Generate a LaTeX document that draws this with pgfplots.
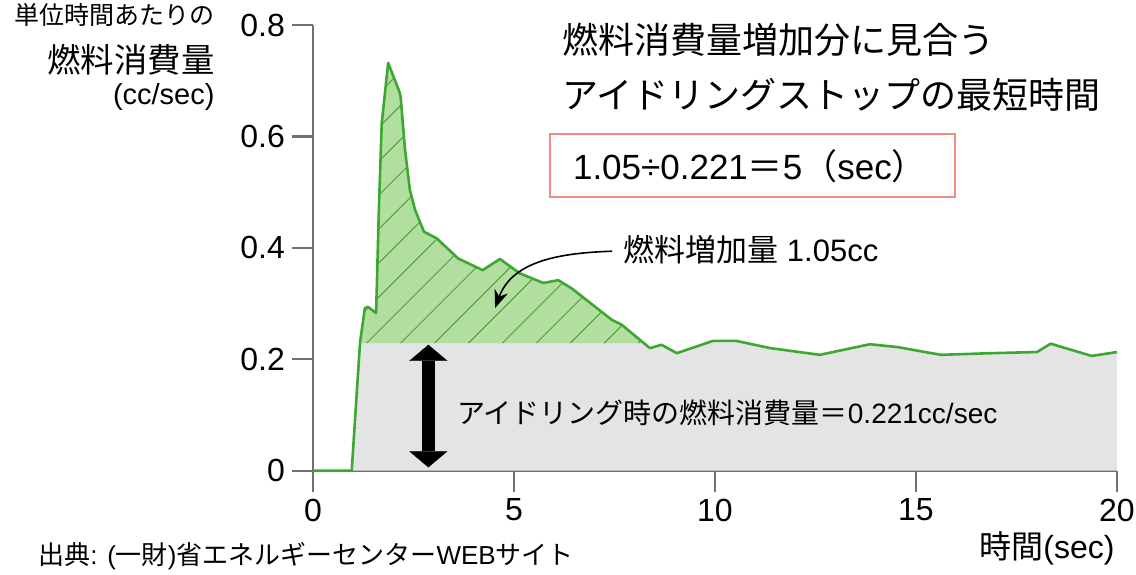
\documentclass[border=0pt]{standalone}
\usepackage{fontspec}
\setmainfont{Liberation Sans}
\newfontfamily\jp{Noto Sans CJK JP}
\usepackage{pgfplots}
\usepackage{pgfplotstable}
\pgfplotsset{compat=1.18}
\usetikzlibrary{arrows.meta,patterns.meta}

\definecolor{axgray}{RGB}{112,112,112}
\definecolor{curvegreen}{RGB}{60,168,50}
\definecolor{fillgreen}{RGB}{178,222,160}
\definecolor{hatchgreen}{RGB}{80,160,60}
\definecolor{idlegray}{RGB}{228,228,228}
\definecolor{boxred}{RGB}{244,140,130}

% fuel consumption curve (cc/sec)
\pgfplotstableread{
x y
0 0
0.963 0
1.17 0.230
1.29 0.292
1.37 0.294
1.57 0.283
1.64 0.473
1.71 0.624
1.87 0.732
2.15 0.680
2.18 0.671
2.29 0.576
2.41 0.504
2.54 0.468
2.76 0.429
3.08 0.417
3.61 0.381
4.22 0.360
4.65 0.380
5.15 0.354
5.73 0.337
6.10 0.342
6.44 0.327
7.43 0.271
7.68 0.262
8.38 0.220
8.67 0.226
9.05 0.211
9.95 0.233
10.53 0.233
11.38 0.220
12.61 0.208
13.85 0.227
14.53 0.222
15.62 0.208
16.90 0.211
18.01 0.213
18.35 0.228
19.37 0.206
20 0.213
}\curve

% extra fuel above idling level
\pgfplotstableread{
x y
1.17 0.229
1.29 0.292
1.37 0.294
1.57 0.283
1.64 0.473
1.71 0.624
1.87 0.732
2.15 0.680
2.18 0.671
2.29 0.576
2.41 0.504
2.54 0.468
2.76 0.429
3.08 0.417
3.61 0.381
4.22 0.360
4.65 0.380
5.15 0.354
5.73 0.337
6.10 0.342
6.44 0.327
7.43 0.271
7.68 0.262
8.21 0.229
}\excess

% idling consumption area
\pgfplotstableread{
x y
0.963 0
1.17 0.229
8.21 0.229
8.38 0.220
8.67 0.226
9.05 0.211
9.95 0.233
10.53 0.233
11.38 0.220
12.61 0.208
13.85 0.227
14.53 0.222
15.62 0.208
16.90 0.211
18.01 0.213
18.35 0.228
19.37 0.206
20 0.213
20 0
}\idle

\begin{document}
\begin{tikzpicture}
\path[use as bounding box] (-156.5pt,-51.65pt) rectangle (411.5pt,235.35pt);
\begin{axis}[
  at={(0,0)}, anchor=south west,
  width=402pt, height=222.85pt, scale only axis,
  xmin=0, xmax=20, ymin=0, ymax=0.8,
  xtick={0,5,10,15,20}, ytick={0,0.2,0.4,0.6,0.8},
  axis x line=bottom, axis y line=left,
  axis line style={-, draw=axgray, line width=1.1pt},
  tick style={draw=axgray, line width=1.1pt},
  tick align=outside, major tick length=10.5pt,
  ticklabel style={font=\fontsize{16}{16}\selectfont},
  /pgf/number format/assume math mode=true,
  clip=false,
]
\addplot[draw=none, fill=idlegray] table {\idle};
\addplot[draw=none, fill=fillgreen] table {\excess};
\addplot[draw=none, pattern={Lines[angle=45,distance=12pt,line width=0.5pt]}, pattern color=hatchgreen] table {\excess};
\addplot[curvegreen, line width=1.3pt, line join=round] table {\curve};

\draw[line width=6.5pt, {Triangle[width=19pt,length=8pt,line width=0.1pt]}-{Triangle[width=19pt,length=8pt,line width=0.1pt]}]
  (axis cs:2.87,0.226) -- (axis cs:2.87,0.006);
\draw[line width=0.8pt, -{Stealth[length=9pt,width=7pt]}]
  (axis cs:7.44,0.394) to[out=182,in=70] (axis cs:4.53,0.292);

\node[anchor=west, inner sep=0, font=\jp\fontsize{18}{18}\selectfont] at (axis cs:6.19,0.773) {燃料消費量増加分に見合う};
\node[anchor=west, inner sep=0, font=\jp\fontsize{18}{18}\selectfont] at (axis cs:6.19,0.674) {アイドリングストップの最短時間};
\draw[boxred, line width=1pt] (axis cs:5.90,0.491) rectangle (axis cs:15.97,0.604);
\node[inner sep=0, font=\fontsize{17.5}{17.5}\selectfont] at (axis cs:10.87,0.547) {1.05÷0.221{\jp ＝}5{\jp （}sec{\jp ）}};
\node[anchor=west, inner sep=0, font=\fontsize{15.5}{15.5}\selectfont] at (axis cs:7.71,0.396) {{\jp 燃料増加量} 1.05cc};
\node[anchor=west, inner sep=0, font=\fontsize{14}{14}\selectfont] at (axis cs:3.58,0.1036) {{\jp アイドリング時の燃料消費量＝}0.221cc/sec};

\node[anchor=east, inner sep=0, font=\jp\fontsize{12.5}{12.5}\selectfont] at (axis cs:-2.44,0.818) {単位時間あたりの};
\node[anchor=east, inner sep=0, font=\jp\fontsize{16.7}{16.7}\selectfont] at (axis cs:-2.44,0.737) {燃料消費量};
\node[anchor=east, inner sep=0, font=\fontsize{14.5}{14.5}\selectfont] at (axis cs:-2.44,0.671) {(cc/sec)};

\node[anchor=east, inner sep=0, font=\fontsize{16}{16}\selectfont] at (axis cs:19.95,-0.139) {{\jp 時間}(sec)};
\node[anchor=west, inner sep=0, font=\fontsize{13}{13}\selectfont] at (axis cs:-6.84,-0.153) {{\jp 出典}: ({\jp 一財}){\jp 省エネルギーセンター}WEB{\jp サイト}};
\end{axis}
\end{tikzpicture}
\end{document}
